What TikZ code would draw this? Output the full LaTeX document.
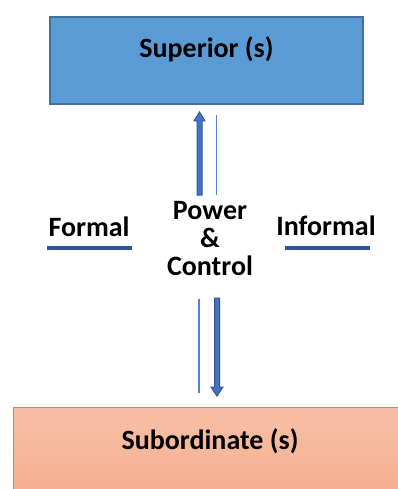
\documentclass[tikz,border=0pt]{standalone}
\usepackage{fontspec}
\setmainfont{Carlito}
\usetikzlibrary{arrows.meta}
\definecolor{supfill}{HTML}{5B9BD5}
\definecolor{supdraw}{HTML}{41719C}
\definecolor{subtop}{HTML}{F7C0A6}
\definecolor{subbot}{HTML}{F4A584}
\definecolor{subdraw}{HTML}{ED7D31}
\definecolor{arrfill}{HTML}{4472C4}
\definecolor{arrdraw}{HTML}{2F5597}
\definecolor{thinline}{HTML}{5B82C8}
\tikzset{
  lbl/.style={font=\bfseries\fontsize{28}{34}\selectfont, text=black, inner sep=0},
  bigarrow/.style={draw=arrdraw, fill=arrfill, line width=1pt, line join=miter},
  thin/.style={draw=thinline, line width=1.2pt},
  underl/.style={draw=arrdraw, line width=4pt}
}
\begin{document}
\begin{tikzpicture}[x=1pt,y=-1pt]
\useasboundingbox (0,0) rectangle (397,489);
% top box
\node[draw=supdraw, fill=supfill, line width=2pt, minimum width=313pt, minimum height=87pt, anchor=north west, inner sep=0] (sup) at (48.5,16) {};
\node[lbl] (suptext) at (206.5,49) {Superior (s)};
% bottom box
\node[draw=subdraw, top color=subtop, bottom color=subbot, line width=1pt, minimum width=420pt, minimum height=130pt, anchor=north west, inner sep=0] (sub) at (13,407) {};
\node[lbl] (subtext) at (210,441) {Subordinate (s)};
% center text
\node[lbl, align=center, font=\bfseries\fontsize{28}{28}\selectfont] (pc) at (210,239) {Power\\\&\\Control};
\node[lbl] (formal) at (89,227) {Formal};
\node[lbl] (informal) at (326,226) {Informal};
\coordinate (fl1) at (47,248); \coordinate (fl2) at (132,248);
\coordinate (il1) at (285,248); \coordinate (il2) at (370,248);
\draw[underl] (fl1) -- (fl2);
\draw[underl] (il1) -- (il2);
% up arrow
\draw[bigarrow] (197,195) -- (197,121) -- (194,121) -- (199.5,112) -- (205,121) -- (202,121) -- (202,195) -- cycle;
\coordinate (ut1) at (216.5,115); \coordinate (ut2) at (216.5,195);
\draw[thin] (ut1) -- (ut2);
% down arrow
\draw[bigarrow] (214.5,298) -- (214.5,387) -- (211,387) -- (217,396) -- (223,387) -- (219.5,387) -- (219.5,298) -- cycle;
\coordinate (dt1) at (199,299); \coordinate (dt2) at (199,393);
\draw[thin] (dt1) -- (dt2);
\end{tikzpicture}
\end{document}
